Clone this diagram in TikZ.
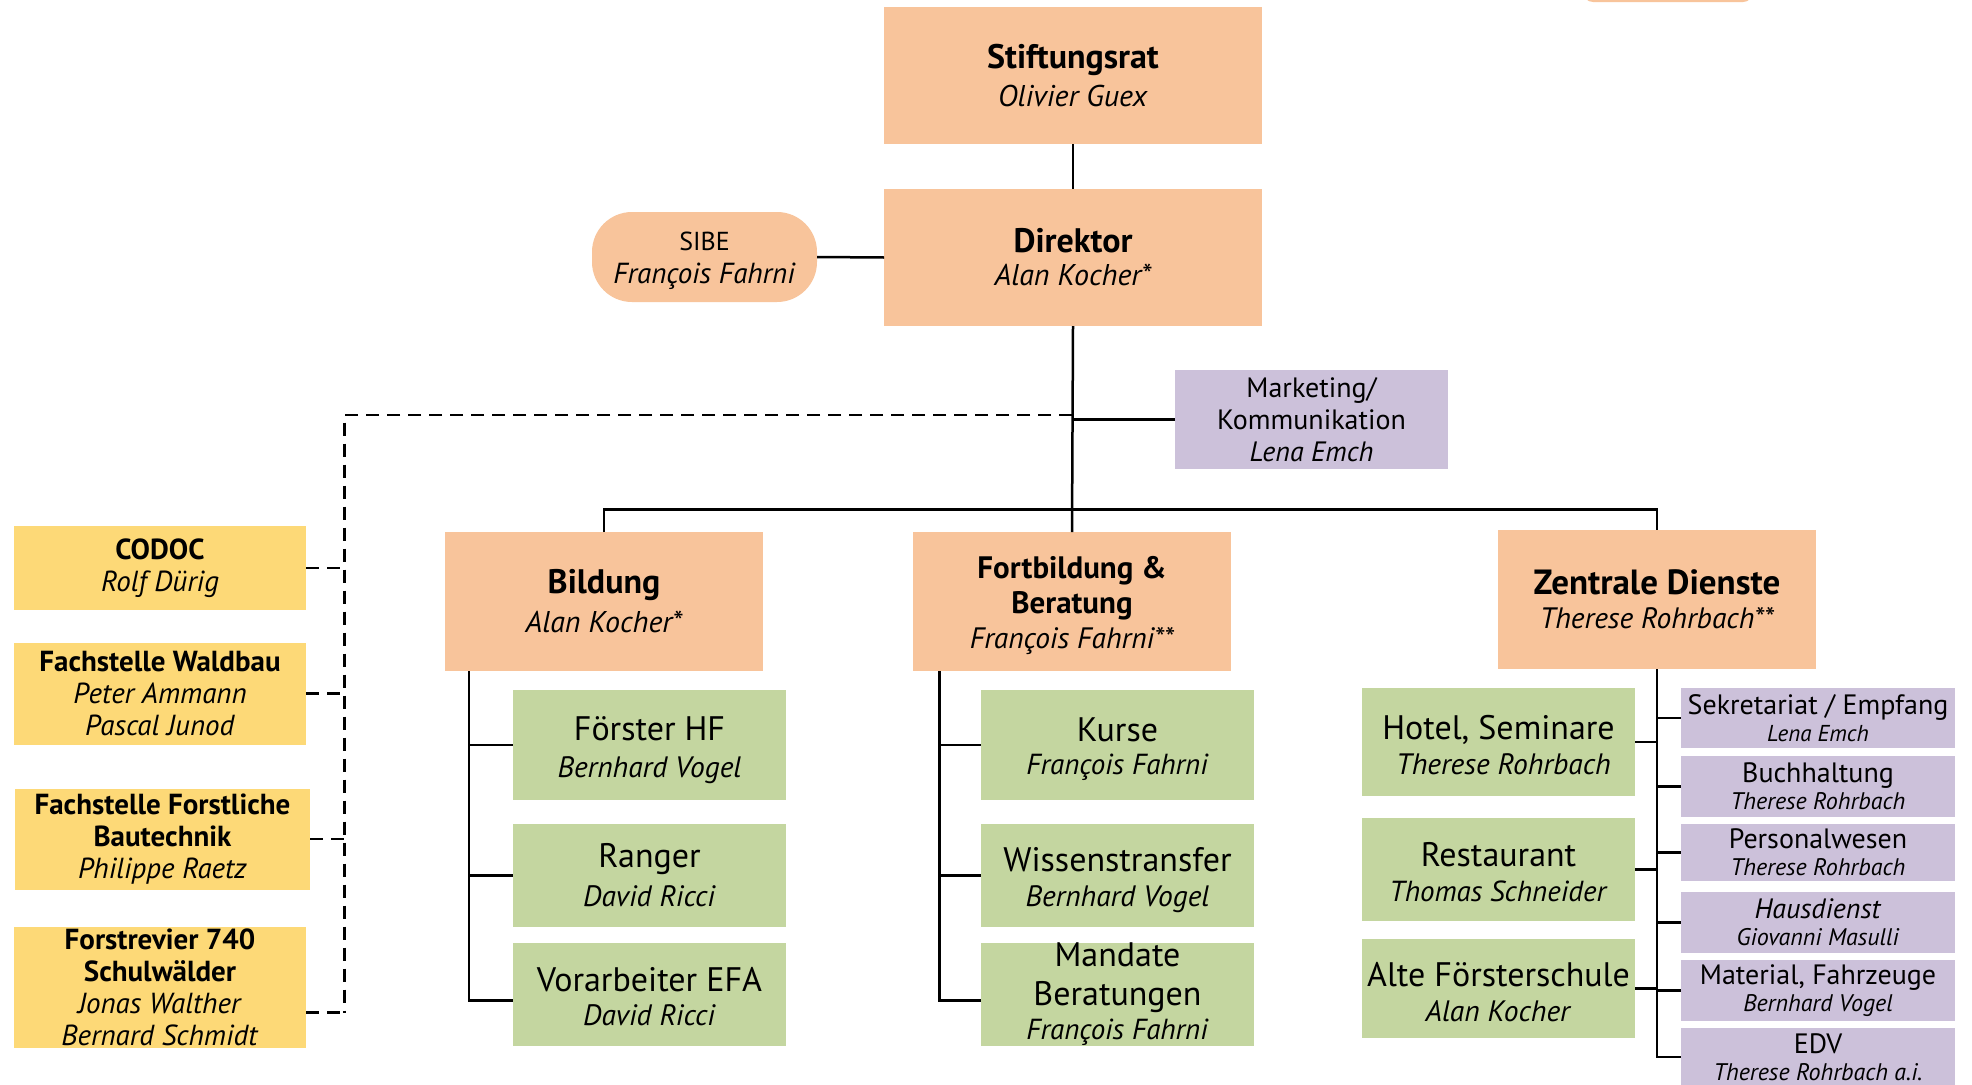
\documentclass[tikz,border=0pt]{standalone}
\usepackage{fontspec}
\setmainfont{PT Sans}
\definecolor{corange}{HTML}{F8C49B}
\definecolor{cgreen}{HTML}{C4D6A0}
\definecolor{cpurple}{HTML}{CCC1DA}
\definecolor{cyellow}{HTML}{FDD977}
\newcommand\fsz[2]{\fontsize{#1}{#2}\selectfont}
\newcommand\tdn[1]{\rule{0pt}{#1pt}}
\tikzset{
  base/.style={rectangle, inner sep=0pt, outer sep=0pt, align=center, text=black},
  orng/.style={base, fill=corange},
  grn/.style={base, fill=cgreen, minimum width=273pt},
  prp/.style={base, fill=cpurple, minimum width=274pt},
  ylw/.style={base, fill=cyellow},
  ln/.style={line width=2.5pt, black},
  dsh/.style={line width=2.3pt, black, dash pattern=on 13pt off 8pt},
  gtxt/.style={font=\fsz{34}{37}},
  ptxt/.style={font=\fsz{28}{27}},
  ytxt/.style={font=\fsz{29}{32}},
}
\begin{document}
\begin{tikzpicture}[x=1pt,y=-1pt]
\useasboundingbox (0,0) rectangle (1972,1084);
\fill[white] (0,0) rectangle (1972,1084);

% partial box at top right
\node[orng, rounded corners=10pt, minimum width=170pt, minimum height=40pt] (topr) at (1668,-18) {};

% top level
\node[orng, font=\fsz{34}{38}, minimum width=378pt, minimum height=137pt] (stift) at (1073,75.5)
  {\textbf{Stiftungsrat}\\\fsz{30}{38}\textit{Olivier Guex}};
\node[orng, font=\fsz{34}{33}, minimum width=378pt, minimum height=137pt] (dir) at (1073,257.5)
  {\textbf{Direktor}\\\fsz{30}{33}\textit{Alan Kocher*}};
\node[orng, font=\fsz{26}{33}, rounded corners=40pt, minimum width=225pt, minimum height=90pt] (sibe) at (704.5,257)
  {\tdn{26}SIBE\\\fsz{29}{33}\textit{François Fahrni}};
\node[prp, font=\fsz{28}{32}, minimum width=273pt, minimum height=99pt] (mkt) at (1311.5,419.5)
  {Marketing/\\Kommunikation\\\textit{Lena Emch}};

% departments
\node[orng, font=\fsz{34}{39}, minimum width=318pt, minimum height=139pt] (bild) at (604,601.5)
  {\textbf{Bildung}\\\fsz{30}{39}\textit{Alan Kocher*}};
\node[orng, font=\fsz{31}{35}, minimum width=318pt, minimum height=139pt] (fort) at (1072,601.5)
  {\tdn{31}\textbf{Fortbildung \&}\\\textbf{Beratung}\\\fsz{29.5}{35}\textit{François Fahrni**}};
\node[orng, font=\fsz{35}{34}, minimum width=318pt, minimum height=139pt] (zd) at (1657,599.5)
  {\textbf{Zentrale Dienste}\\\fsz{29.5}{34}\textit{Therese Rohrbach**}};

% Bildung children
\node[grn, gtxt, minimum height=110pt] (fhf) at (649.5,745) {\tdn{34}Förster HF\\\fsz{29.5}{37}\textit{Bernhard Vogel}};
\node[grn, font=\fsz{34}{39}, minimum height=103pt] (rng) at (649.5,875.5) {Ranger\\\fsz{29.5}{39}\textit{David Ricci}};
\node[grn, font=\fsz{34}{34}, minimum height=103pt] (vor) at (649.5,994.5) {\tdn{29}Vorarbeiter EFA\\\fsz{29.5}{34}\textit{David Ricci}};

% Fortbildung children
\node[grn, font=\fsz{34}{33}, minimum height=110pt] (kur) at (1117.5,745) {\tdn{32}Kurse\\\fsz{29}{33}\textit{François Fahrni}};
\node[grn, font=\fsz{34}{35}, minimum height=103pt] (wis) at (1117.5,875.5) {\tdn{33}Wissenstransfer\\\fsz{29.5}{35}\textit{Bernhard Vogel}};
\node[grn, font=\fsz{34}{34}, minimum height=103pt] (man) at (1117.5,994.5) {Mandate\\[5pt]Beratungen\\\fsz{29}{33}\textit{François Fahrni}};

% Zentrale Dienste children (green)
\node[grn, font=\fsz{34}{35}, minimum height=108pt] (hot) at (1498.5,742) {\tdn{30}Hotel, Seminare\\\fsz{29.5}{35}\hspace*{10pt}\textit{Therese Rohrbach}};
\node[grn, font=\fsz{34}{35}, minimum height=103pt] (res) at (1498.5,869.5) {\tdn{29}Restaurant\\\fsz{29}{35}\textit{Thomas Schneider}};
\node[grn, font=\fsz{34}{35}, minimum height=99pt] (alt) at (1498.5,988.5) {\tdn{32}Alte Försterschule\\\fsz{29.5}{35}\textit{Alan Kocher}};

% Zentrale Dienste children (purple)
\node[prp, ptxt, minimum height=60pt] (sek) at (1818,718) {Sekretariat / Empfang\\\fsz{23}{27}\textit{Lena Emch}};
\node[prp, ptxt, minimum height=61pt] (buch) at (1818,786.5) {Buchhaltung\\\fsz{24}{27}\textit{Therese Rohrbach}};
\node[prp, ptxt, minimum height=57pt] (pers) at (1818,852.5) {Personalwesen\\\fsz{24}{27}\textit{Therese Rohrbach}};
\node[prp, ptxt, minimum height=61pt] (haus) at (1818,922.5) {\textit{Hausdienst}\\\fsz{24}{27}\textit{Giovanni Masulli}};
\node[prp, ptxt, minimum height=61pt] (mat) at (1818,990.5) {Material, Fahrzeuge\\\fsz{24}{27}\textit{Bernhard Vogel}};
\node[prp, ptxt, minimum height=58pt] (edv) at (1818,1057) {EDV\\\fsz{24}{27}\textit{Therese Rohrbach a.i.}};

% yellow staff units
\node[ylw, ytxt, minimum width=292pt, minimum height=84pt] (codoc) at (160,568)
  {\textbf{CODOC}\\\textit{Rolf Dürig}};
\node[ylw, ytxt, minimum width=292pt, minimum height=102pt] (wald) at (160,693.6)
  {\textbf{Fachstelle Waldbau}\\\textit{Peter Ammann}\\\textit{Pascal Junod}};
\node[ylw, ytxt, minimum width=295pt, minimum height=101pt] (baut) at (162.5,839)
  {\textbf{Fachstelle Forstliche}\\\textbf{Bautechnik}\\\textit{Philippe Raetz}};
\node[ylw, ytxt, minimum width=292pt, minimum height=121pt] (forst) at (160,987.5)
  {\textbf{Forstrevier 740}\\\textbf{Schulwälder}\\\textit{Jonas Walther}\\\textit{Bernard Schmidt}};

% solid connectors
\draw[ln] (stift.south) -- (dir.north);
\draw[ln] (sibe.east) -- (dir.west);
\draw[ln] (dir.south) -- (fort.north);
\draw[ln] (mkt.west) -- (mkt.west -| dir.south);
\coordinate (bar) at (1072,509.5);
\draw[ln] (bild.north) |- (bar) -| (zd.north);

\draw[ln] ([xshift=24pt]bild.south west) |- (fhf.west);
\draw[ln] ([xshift=24pt]bild.south west) |- (rng.west);
\draw[ln] ([xshift=24pt]bild.south west) |- ([yshift=-6pt]vor.west);

\draw[ln] ([xshift=26.5pt]fort.south west) |- (kur.west);
\draw[ln] ([xshift=26.5pt]fort.south west) |- (wis.west);
\draw[ln] ([xshift=26.5pt]fort.south west) |- ([yshift=-6pt]man.west);

\draw[ln] (zd.south) |- (sek.west);
\draw[ln] (zd.south) |- (buch.west);
\draw[ln] (zd.south) |- (pers.west);
\draw[ln] (zd.south) |- (haus.west);
\draw[ln] (zd.south) |- (mat.west);
\draw[ln] (zd.south) |- (edv.west);
\draw[ln] (hot.east) -- (hot.east -| zd.south);
\draw[ln] (res.east) -- (res.east -| zd.south);
\draw[ln] (alt.east) -- (alt.east -| zd.south);

% dashed staff connectors
\coordinate (dj) at (1072,415);
\coordinate (dsp) at (344.6,1012.5);
\draw[dsh] (dj) -| (dsp);
\draw[dsh] (codoc.east) -- (codoc.east -| dsp);
\draw[dsh] (wald.east) -- (wald.east -| dsp);
\draw[dsh] (baut.east) -- (baut.east -| dsp);
\draw[dsh] ([yshift=-25pt]forst.east) -- (dsp);
\end{tikzpicture}
\end{document}
